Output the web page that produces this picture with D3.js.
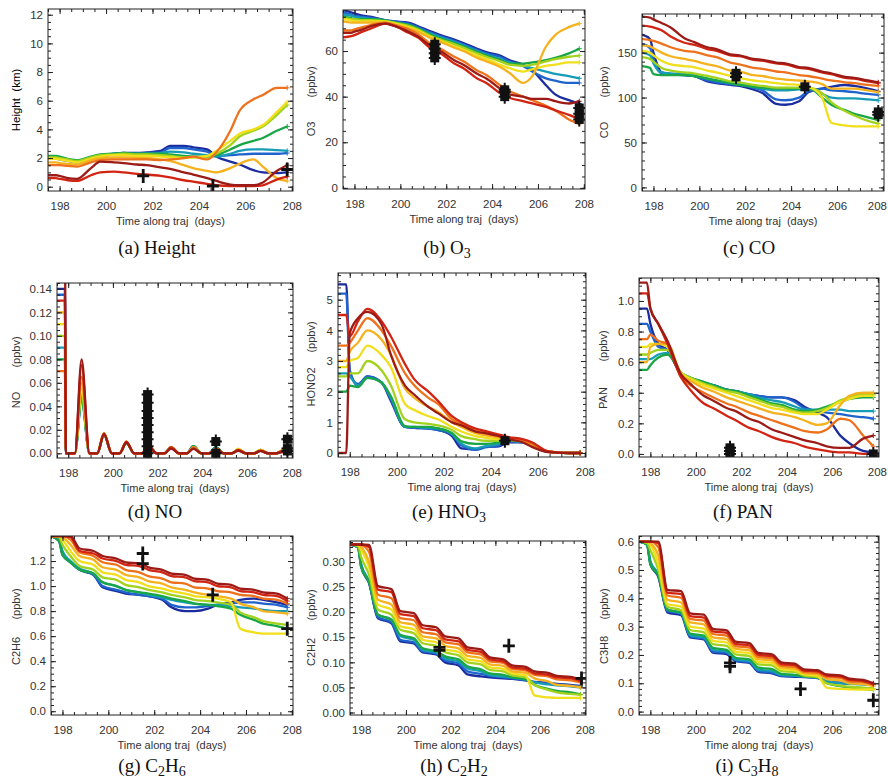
<!DOCTYPE html>
<html><head><meta charset="utf-8">
<script src="https://cdn.jsdelivr.net/npm/d3@7"></script>
<style>body{margin:0;background:#fff}svg{display:block}text{font-family:"Liberation Sans",Arial,sans-serif}</style>
</head><body><svg id="c" width="888" height="782"></svg>
<script>
// ---------- DATA ----------
const T = [197.5,197.85,198.0,198.35,198.75,199.35,199.75,200.35,200.75,201.35,201.75,202.35,202.75,203.35,203.75,204.35,204.75,205.35,205.75,206.35,206.75,207.35,207.8];
const T_NO = [197.5,197.85,197.9,198.3,198.6,198.95,199.3,199.6,199.95,200.3,200.6,200.95,201.3,201.6,201.95,202.3,202.6,202.95,203.3,203.6,203.95,204.3,204.6,204.95,205.3,205.6,205.95,206.3,206.6,206.95,207.3,207.6,207.8];
const xTicks = [198,200,202,204,206,208];

// series ordered by trajectory group: dark blue, blue, teal, green, yellow-green, yellow, gold, orange, red, dark red
const heightSeries = [
[2.0,2.0,1.95,1.85,1.75,2.0,2.15,2.3,2.35,2.35,2.4,2.5,2.85,2.85,2.75,2.6,2.1,1.75,1.55,1.15,1.0,0.95,1.0],
[1.95,1.95,1.9,1.8,1.7,1.95,2.1,2.25,2.3,2.3,2.35,2.4,2.7,2.7,2.6,2.45,2.15,2.2,2.25,2.3,2.3,2.3,2.35],
[2.05,2.05,2.0,1.9,1.8,2.05,2.2,2.3,2.35,2.3,2.3,2.35,2.45,2.4,2.3,2.2,2.1,2.3,2.5,2.6,2.6,2.55,2.5],
[2.15,2.15,2.1,1.95,1.85,2.1,2.25,2.3,2.35,2.3,2.3,2.3,2.25,2.15,2.1,2.1,2.2,2.6,2.9,3.2,3.4,3.9,4.2],
[2.05,2.05,2.0,1.9,1.8,2.05,2.2,2.25,2.3,2.25,2.25,2.2,2.15,2.05,2.05,2.1,2.3,2.9,3.5,3.9,4.2,5.0,5.7],
[1.95,1.95,1.9,1.8,1.7,1.95,2.1,2.2,2.2,2.15,2.15,2.1,2.05,2.0,2.05,2.15,2.5,3.2,3.7,4.0,4.3,5.2,5.9],
[1.7,1.7,1.65,1.6,1.55,1.85,2.0,2.05,2.05,2.0,2.0,1.9,1.8,1.5,1.3,1.1,1.0,1.3,1.6,1.9,1.4,0.6,0.4],
[1.5,1.5,1.5,1.45,1.4,1.7,1.85,1.9,1.9,1.9,1.9,1.85,1.9,2.0,2.1,1.9,2.4,3.9,5.3,6.1,6.4,6.9,6.9],
[0.6,0.6,0.55,0.45,0.4,0.8,1.0,1.05,1.0,0.9,0.85,0.75,0.65,0.45,0.35,0.2,0.1,0.05,0.05,0.05,0.1,0.5,0.7],
[0.8,0.8,0.75,0.6,0.55,1.3,1.75,1.7,1.65,1.55,1.5,1.35,1.25,1.0,0.85,0.6,0.4,0.15,0.1,0.1,0.3,1.1,1.5]
];
const heightTicks = [0,2,4,6,8,10,12];
const heightObs = [[201.6,0.75],[204.6,0.05],[207.8,1.2]];

const o3Series = [
[78,77,76.5,75.5,75,73.5,73,72.5,71,68.5,67,65,63.5,61,59.5,58,56,54,51.5,45,41,38.5,37],
[77,76,75.5,75,74.5,73.5,73,72,70.5,68,66.5,64.5,63,60.5,59,57.5,55.5,53.5,51,48,47,46,46],
[76,75.5,75,74.5,74,73.5,72.5,71.5,70,67.5,66,64,62.5,60,58.5,56.5,55,53.5,52.5,51,50,49,48],
[75,74.5,74,74,74,73.5,72.5,71.5,70,67,65.5,63.5,62,59.5,58,56,54.5,54.5,55,56,57,59,61],
[74.5,74,74,73.5,73.5,73,72.5,71,69.5,66.5,65,63,61.5,59,57.5,55.5,54,53.5,54,55.5,56.5,57.5,58],
[74,73.5,73,73,73,73,72,70.5,69,66,64.5,62,60.5,58,56.5,54,52.5,51,52,53.5,54,55,55],
[73,72.5,72.5,72.5,72.5,72.5,71.5,70,68.5,65.5,64,61.5,60,57,55.5,53,50.5,46,49,62,67,70.5,72],
[69,69,69.5,70.5,71.5,72.5,71.5,69.5,67.5,63,61,57.5,55.5,51.5,49.5,45,42.5,40,38.5,36,34,30,28],
[66,66.5,67,68.5,70,72,71,68,66,61,59,54.5,52.5,48,46,41.5,39.5,38,37,35.5,34,32,30],
[68,68,68.5,69.5,71,72,71,68.5,66.5,62,60,56,54,50,48,43.5,41,40,39,39,38,37,38]
];
const o3Ticks = [0,20,40,60];
const o3Obs = [[201.5,57],[201.5,59],[201.5,61],[201.5,63],[204.55,40],[204.55,42],[204.55,43],[207.8,30],[207.8,32.5],[207.8,35]];

const coSeries = [
[170,165,150,128,126,125,124,118,116,114,113,109,105,93,92,96,106,110,112,114,113,110,107],
[160,155,142,127,126,125,124,119,117,115,114,111,108,98,97,100,107,110,108,107,106,104,103],
[150,147,138,128,127,126,125,121,119,116,115,112,110,108,108,109,110,104,100,99,99,98,97],
[135,133,126,125,125,125,124,121,119,116,114,112,111,110,110,110,111,100,92,86,82,78,75],
[145,143,140,133,130,128,127,124,122,118,117,114,113,111,111,111,111,105,95,85,80,74,71],
[152,150,147,141,137,135,134,130,128,124,122,119,118,116,115,114,112,100,72,69,68,68,68],
[158,157,155,150,146,143,141,137,135,130,129,125,124,121,120,119,118,115,110,110,110,108,106],
[165,164,163,160,156,152,151,147,145,139,137,133,132,129,128,125,124,121,119,117,116,114,113],
[180,179,178,175,168,161,159,154,152,147,146,142,141,138,137,133,132,128,126,122,121,118,116],
[190,189,187,183,178,166,162,156,154,148,147,143,142,139,138,134,133,129,127,123,122,119,117]
];
const coTicks = [0,50,100,150];
const coObs = [[201.6,123],[201.6,127],[204.6,112],[207.8,81],[207.8,84]];

const noSeries = [
[0.14,0.14,0,0,0.048,0,0,0.016,0,0,0.009,0,0,0.006,0,0,0.005,0,0,0.006,0,0,0.005,0,0,0.003,0,0,0.002,0,0,0.002,0],
[0.135,0.135,0,0,0.048,0,0,0.016,0,0,0.009,0,0,0.006,0,0,0.005,0,0,0.006,0,0,0.005,0,0,0.003,0,0,0.002,0,0,0.002,0],
[0.09,0.09,0,0,0.046,0,0,0.016,0,0,0.009,0,0,0.006,0,0,0.005,0,0,0.006,0,0,0.005,0,0,0.003,0,0,0.002,0,0,0.002,0],
[0.08,0.08,0,0,0.045,0,0,0.016,0,0,0.009,0,0,0.006,0,0,0.005,0,0,0.006,0,0,0.005,0,0,0.003,0,0,0.003,0,0,0.002,0],
[0.1,0.1,0,0,0.05,0,0,0.016,0,0,0.009,0,0,0.006,0,0,0.005,0,0,0.005,0,0,0.004,0,0,0.003,0,0,0.003,0,0,0.002,0],
[0.11,0.11,0,0,0.055,0,0,0.017,0,0,0.01,0,0,0.006,0,0,0.005,0,0,0.005,0,0,0.004,0,0,0.004,0,0,0.003,0,0,0.003,0],
[0.12,0.12,0,0,0.06,0,0,0.017,0,0,0.01,0,0,0.006,0,0,0.005,0,0,0.005,0,0,0.004,0,0,0.003,0,0,0.003,0,0,0.002,0],
[0.07,0.07,0,0,0.065,0,0,0.017,0,0,0.01,0,0,0.006,0,0,0.005,0,0,0.005,0,0,0.004,0,0,0.003,0,0,0.002,0,0,0.002,0],
[0.13,0.13,0,0,0.075,0,0,0.017,0,0,0.01,0,0,0.006,0,0,0.005,0,0,0.004,0,0,0.004,0,0,0.003,0,0,0.002,0,0,0.002,0],
[0.2,0.2,0,0,0.08,0,0,0.016,0,0,0.009,0,0,0.006,0,0,0.004,0,0,0.004,0,0,0.003,0,0,0.002,0,0,0.002,0,0,0.001,0]
];
const noTicks = [0,0.02,0.04,0.06,0.08,0.10,0.12,0.14];
const noObs = [[201.55,0.0],[201.55,0.006],[201.55,0.012],[201.55,0.018],[201.55,0.024],[201.55,0.03],[201.55,0.036],[201.55,0.043],[201.55,0.05],[204.6,0.0],[204.6,0.01],[207.8,0.002],[207.8,0.004],[207.8,0.012]];

const hno3Series = [
[5.5,5.5,2.7,2.2,2.5,2.3,1.7,0.85,0.82,0.8,0.75,0.55,0.15,0.12,0.2,0.22,0.35,0.35,0.25,0.05,0.02,0,0],
[5.2,5.2,2.65,2.25,2.5,2.3,1.75,0.85,0.82,0.8,0.75,0.6,0.25,0.1,0.18,0.25,0.38,0.35,0.25,0.05,0.02,0,0],
[2.6,2.6,2.5,2.2,2.45,2.3,1.8,0.85,0.85,0.82,0.8,0.62,0.3,0.15,0.22,0.3,0.4,0.35,0.25,0.05,0.02,0,0],
[2.0,2.0,2.2,2.15,2.45,2.3,1.85,0.88,0.85,0.85,0.8,0.65,0.38,0.3,0.3,0.35,0.42,0.38,0.25,0.05,0.02,0,0],
[2.5,2.5,2.6,2.6,3.0,2.7,2.2,1.1,1.0,0.95,0.9,0.75,0.55,0.45,0.4,0.4,0.42,0.4,0.28,0.06,0.02,0,0],
[2.8,2.8,3.0,3.1,3.5,3.2,2.8,1.6,1.4,1.2,1.1,0.85,0.7,0.55,0.5,0.45,0.45,0.4,0.3,0.06,0.02,0,0],
[3.0,3.0,3.3,3.6,4.0,3.7,3.2,2.1,1.8,1.5,1.35,1.0,0.85,0.65,0.58,0.5,0.48,0.42,0.3,0.06,0.02,0,0],
[3.5,3.5,3.6,4.0,4.4,4.0,3.5,2.6,2.2,1.8,1.6,1.1,0.95,0.75,0.65,0.55,0.5,0.42,0.3,0.06,0.02,0,0],
[4.5,4.5,3.8,4.3,4.7,4.3,3.8,2.9,2.4,2.0,1.7,1.2,1.0,0.8,0.72,0.6,0.52,0.45,0.35,0.08,0.03,0,0],
[0,0,3.9,4.4,4.6,4.2,3.2,2.2,1.9,1.5,1.3,1.0,0.9,0.7,0.65,0.55,0.45,0.35,0.2,0.04,0.01,0,0]
];
const hno3Ticks = [0,1,2,3,4,5];
const hno3Obs = [[204.6,0.4]];

const panSeries = [
[0.95,0.95,0.85,0.72,0.68,0.52,0.49,0.46,0.45,0.42,0.41,0.39,0.38,0.37,0.37,0.35,0.31,0.27,0.24,0.12,0.07,0.02,0.01],
[0.85,0.85,0.8,0.7,0.68,0.52,0.49,0.46,0.45,0.42,0.41,0.39,0.38,0.37,0.37,0.34,0.3,0.28,0.27,0.26,0.25,0.24,0.23],
[0.62,0.62,0.62,0.65,0.66,0.53,0.5,0.47,0.45,0.42,0.41,0.39,0.37,0.35,0.34,0.31,0.29,0.29,0.29,0.29,0.28,0.28,0.28],
[0.55,0.55,0.58,0.63,0.65,0.53,0.5,0.47,0.45,0.42,0.41,0.38,0.36,0.33,0.32,0.29,0.28,0.29,0.31,0.34,0.36,0.37,0.37],
[0.65,0.65,0.66,0.68,0.68,0.53,0.5,0.46,0.44,0.41,0.4,0.37,0.35,0.32,0.31,0.28,0.27,0.28,0.3,0.35,0.37,0.39,0.39],
[0.7,0.7,0.72,0.72,0.7,0.53,0.49,0.45,0.43,0.4,0.38,0.35,0.33,0.3,0.29,0.27,0.26,0.26,0.29,0.34,0.36,0.38,0.38],
[0.6,0.6,0.7,0.72,0.72,0.52,0.48,0.43,0.41,0.37,0.35,0.32,0.3,0.27,0.26,0.24,0.22,0.19,0.2,0.32,0.38,0.4,0.4],
[0.75,0.75,0.78,0.74,0.72,0.5,0.45,0.4,0.37,0.33,0.31,0.27,0.25,0.22,0.2,0.17,0.15,0.14,0.16,0.23,0.22,0.12,0.05],
[1.05,1.05,0.95,0.85,0.72,0.5,0.42,0.33,0.3,0.25,0.22,0.17,0.15,0.11,0.09,0.07,0.05,0.03,0.02,0.01,0.01,0,0],
[1.12,1.12,0.95,0.85,0.74,0.52,0.46,0.38,0.35,0.3,0.28,0.23,0.21,0.16,0.14,0.11,0.09,0.07,0.05,0.04,0.04,0.1,0.12]
];
const panTicks = [0,0.2,0.4,0.6,0.8,1.0];
const panObs = [[201.5,0.0],[201.5,0.02],[201.5,0.04],[207.8,0.0]];

const c2h6Series = [
[1.4,1.36,1.25,1.19,1.13,1.09,0.99,0.96,0.94,0.93,0.92,0.89,0.83,0.8,0.8,0.82,0.85,0.87,0.89,0.9,0.89,0.87,0.85],
[1.4,1.37,1.27,1.19,1.13,1.09,1.0,0.97,0.95,0.93,0.92,0.9,0.85,0.83,0.83,0.84,0.85,0.86,0.87,0.87,0.86,0.85,0.83],
[1.4,1.37,1.28,1.2,1.14,1.1,1.03,1.0,0.97,0.95,0.93,0.91,0.89,0.87,0.86,0.85,0.85,0.84,0.83,0.82,0.81,0.8,0.8],
[1.4,1.36,1.25,1.19,1.13,1.1,1.03,1.0,0.97,0.95,0.94,0.92,0.9,0.88,0.86,0.85,0.84,0.82,0.77,0.73,0.7,0.68,0.66],
[1.4,1.39,1.33,1.24,1.16,1.13,1.07,1.05,1.01,0.99,0.97,0.95,0.93,0.91,0.89,0.88,0.87,0.85,0.79,0.75,0.72,0.7,0.69],
[1.4,1.4,1.37,1.28,1.2,1.17,1.11,1.09,1.05,1.03,1.0,0.98,0.96,0.94,0.92,0.91,0.9,0.87,0.66,0.63,0.62,0.62,0.62],
[1.4,1.4,1.39,1.33,1.24,1.21,1.15,1.13,1.09,1.07,1.04,1.02,0.99,0.97,0.95,0.93,0.92,0.9,0.86,0.83,0.8,0.79,0.78],
[1.4,1.4,1.4,1.37,1.27,1.24,1.19,1.17,1.13,1.11,1.08,1.06,1.03,1.02,0.99,0.98,0.96,0.95,0.93,0.92,0.9,0.89,0.86],
[1.4,1.4,1.4,1.39,1.28,1.26,1.22,1.2,1.17,1.16,1.13,1.11,1.08,1.07,1.04,1.03,1.0,0.99,0.96,0.95,0.93,0.92,0.88],
[1.4,1.4,1.4,1.4,1.3,1.28,1.24,1.22,1.19,1.18,1.15,1.13,1.1,1.09,1.06,1.05,1.02,1.01,0.98,0.97,0.95,0.94,0.9]
];
const c2h6Ticks = [0,0.2,0.4,0.6,0.8,1.0,1.2];
const c2h6Obs = [[201.5,1.26],[201.5,1.18],[204.55,0.93],[207.8,0.66]];

const c2h2Series = [
[0.335,0.33,0.29,0.258,0.188,0.178,0.142,0.138,0.12,0.116,0.1,0.094,0.076,0.072,0.07,0.068,0.067,0.064,0.061,0.059,0.057,0.055,0.053],
[0.335,0.33,0.295,0.26,0.19,0.18,0.145,0.14,0.122,0.118,0.104,0.098,0.082,0.077,0.073,0.07,0.068,0.064,0.06,0.058,0.056,0.054,0.052],
[0.335,0.33,0.295,0.262,0.195,0.185,0.152,0.145,0.125,0.12,0.108,0.102,0.088,0.082,0.075,0.072,0.07,0.066,0.06,0.056,0.054,0.052,0.05],
[0.335,0.33,0.29,0.26,0.195,0.185,0.155,0.148,0.128,0.122,0.112,0.106,0.092,0.086,0.078,0.075,0.07,0.066,0.055,0.047,0.043,0.04,0.036],
[0.335,0.332,0.31,0.275,0.205,0.195,0.165,0.158,0.138,0.133,0.12,0.114,0.1,0.096,0.085,0.082,0.074,0.07,0.055,0.045,0.04,0.037,0.035],
[0.335,0.334,0.325,0.29,0.215,0.205,0.172,0.166,0.145,0.14,0.126,0.121,0.106,0.102,0.09,0.087,0.078,0.074,0.034,0.03,0.029,0.029,0.029],
[0.335,0.335,0.33,0.3,0.225,0.215,0.18,0.175,0.152,0.148,0.133,0.128,0.113,0.109,0.096,0.093,0.082,0.079,0.068,0.062,0.055,0.053,0.05],
[0.335,0.335,0.334,0.32,0.235,0.228,0.188,0.184,0.16,0.156,0.14,0.136,0.12,0.116,0.102,0.099,0.087,0.084,0.075,0.072,0.066,0.064,0.06],
[0.335,0.335,0.335,0.33,0.245,0.24,0.196,0.192,0.168,0.164,0.146,0.142,0.125,0.121,0.106,0.102,0.09,0.087,0.078,0.075,0.07,0.068,0.063],
[0.335,0.335,0.335,0.334,0.252,0.246,0.202,0.198,0.174,0.17,0.152,0.148,0.13,0.126,0.11,0.106,0.094,0.091,0.082,0.079,0.073,0.071,0.066]
];
const c2h2Ticks = [0,0.05,0.10,0.15,0.20,0.25,0.30];
const c2h2Obs = [[201.5,0.13],[201.5,0.124],[204.6,0.133],[207.85,0.068]];

const c3h8Series = [
[0.6,0.59,0.52,0.475,0.35,0.34,0.262,0.255,0.208,0.203,0.178,0.172,0.14,0.135,0.125,0.123,0.122,0.118,0.107,0.101,0.099,0.097,0.096],
[0.6,0.59,0.53,0.48,0.355,0.345,0.265,0.258,0.212,0.207,0.18,0.175,0.143,0.138,0.127,0.125,0.123,0.119,0.108,0.102,0.1,0.098,0.097],
[0.6,0.59,0.53,0.485,0.36,0.348,0.27,0.262,0.218,0.212,0.184,0.178,0.148,0.143,0.13,0.127,0.124,0.12,0.108,0.1,0.098,0.096,0.095],
[0.6,0.59,0.52,0.48,0.36,0.35,0.275,0.268,0.225,0.218,0.19,0.184,0.155,0.15,0.133,0.13,0.125,0.12,0.1,0.09,0.085,0.08,0.077],
[0.6,0.595,0.57,0.5,0.37,0.358,0.288,0.28,0.238,0.232,0.202,0.196,0.167,0.163,0.143,0.14,0.127,0.122,0.1,0.092,0.088,0.085,0.082],
[0.6,0.6,0.59,0.52,0.38,0.37,0.3,0.293,0.25,0.244,0.212,0.206,0.176,0.172,0.15,0.146,0.131,0.126,0.085,0.08,0.079,0.078,0.078],
[0.6,0.6,0.595,0.55,0.395,0.385,0.315,0.308,0.262,0.256,0.222,0.216,0.185,0.181,0.156,0.152,0.136,0.132,0.115,0.11,0.1,0.097,0.09],
[0.6,0.6,0.6,0.58,0.41,0.402,0.327,0.321,0.274,0.268,0.231,0.226,0.193,0.189,0.162,0.158,0.14,0.137,0.122,0.119,0.107,0.104,0.095],
[0.6,0.6,0.6,0.595,0.42,0.415,0.337,0.332,0.283,0.278,0.239,0.234,0.2,0.196,0.168,0.164,0.145,0.142,0.127,0.124,0.112,0.108,0.097],
[0.6,0.6,0.6,0.6,0.43,0.425,0.347,0.342,0.292,0.287,0.247,0.242,0.207,0.202,0.174,0.169,0.149,0.146,0.131,0.128,0.116,0.112,0.1]
];
const c3h8Ticks = [0,0.1,0.2,0.3,0.4,0.5,0.6];
const c3h8Obs = [[201.5,0.172],[201.5,0.16],[204.6,0.08],[207.8,0.04]];

// ---------- STYLE / LAYOUT ----------
const COLORS = ["#1b2d9e","#1f64cc","#179cb8","#18a646","#a2d21e","#f0df1a","#f5b21e","#ee711c","#d22412","#9c1b16"];
const XDOM = [197.5, 208.05];
const LW = 2.3;

const panels = [
 {series:heightSeries,t:T,ticks:heightTicks,minor:0.5,fmt:"d",y:[-0.3,12.4],frame:[48,9,293,191],obs:heightObs,box:false,
  ylab:[["Height  (km)",100]],labX:16,labDark:true,cap:[["(a) Height",0]],capX:157,capY:248},
 {series:o3Series,t:T,ticks:o3Ticks,minor:5,fmt:"d",y:[-0.5,78],frame:[343,10,585,189],obs:o3Obs,box:true,
  ylab:[["O3",129],["(ppbv)",82]],labX:311,cap:[["(b) O",0],["3",1]],capX:447,capY:248},
 {series:coSeries,t:T,ticks:coTicks,minor:10,fmt:"d",y:[-4,193],frame:[642,14,884,191],obs:coObs,box:true,
  ylab:[["CO",130],["(ppbv)",82]],labX:604,cap:[["(c) CO",0]],capX:749,capY:248},
 {series:noSeries,t:T_NO,ticks:noTicks,minor:0.005,fmt:".2f",y:[-0.004,0.145],frame:[57,283,293,458],obs:noObs,box:true,
  ylab:[["NO",400],["(ppbv)",352]],labX:16,cap:[["(d) NO",0]],capX:155,capY:512},
 {series:hno3Series,t:T,ticks:hno3Ticks,minor:0.2,fmt:"d",y:[-0.13,5.87],frame:[338,273,586,457],obs:hno3Obs,box:true,
  ylab:[["HONO2",387],["(ppbv)",337]],labX:311,cap:[["(e) HNO",0],["3",1]],capX:449,capY:512},
 {series:panSeries,t:T,ticks:panTicks,minor:0.05,fmt:".1f",y:[-0.02,1.15],frame:[639,278,879,457],obs:panObs,box:true,
  ylab:[["PAN",398],["(ppbv)",346]],labX:603,cap:[["(f) PAN",0]],capX:743,capY:512},
 {series:c2h6Series,t:T,ticks:c2h6Ticks,minor:0.05,fmt:".1f",y:[-0.03,1.4],frame:[51,536,293,715],obs:c2h6Obs,box:false,
  ylab:[["C2H6",651],["(ppbv)",604]],labX:16,cap:[["(g) C",0],["2",1],["H",0],["6",1]],capX:152,capY:766},
 {series:c2h2Series,t:T,ticks:c2h2Ticks,minor:0.01,fmt:".2f",y:[-0.005,0.342],frame:[350,541,586,715],obs:c2h2Obs,box:false,
  ylab:[["C2H2",652],["(ppbv)",605]],labX:311,cap:[["(h) C",0],["2",1],["H",0],["2",1]],capX:454,capY:766},
 {series:c3h8Series,t:T,ticks:c3h8Ticks,minor:0.02,fmt:".1f",y:[-0.012,0.62],frame:[639,536,879,715],obs:c3h8Obs,box:false,
  ylab:[["C3H8",650],["(ppbv)",604]],labX:604,cap:[["(i) C",0],["3",1],["H",0],["8",1]],capX:747,capY:766}
];

const svg = d3.select("#c");
svg.append("rect").attr("width",888).attr("height",782).attr("fill","#fff");
const defs = svg.append("defs");

panels.forEach((p,pi)=>{
  const [x0,y0,x1,y1] = p.frame;
  const x = d3.scaleLinear().domain(XDOM).range([x0,x1]);
  const y = d3.scaleLinear().domain(p.y).range([y1,y0]);
  const g = svg.append("g");
  const cid = "clip"+pi;
  defs.append("clipPath").attr("id",cid).append("rect")
    .attr("x",x0).attr("y",y0).attr("width",x1-x0).attr("height",y1-y0);
  const lg = g.append("g").attr("clip-path",`url(#${cid})`);
  const line = d3.line().x((d,i)=>x(p.t[i])).y(d=>y(d)).curve(d3.curveMonotoneX);
  p.series.forEach((s,i)=>{
    lg.append("path").attr("d",line(s)).attr("fill","none")
      .attr("stroke",COLORS[i]).attr("stroke-width",LW).attr("stroke-linejoin","round");
    const lx = x(p.t[p.t.length-1]), ly = y(s[s.length-1]);
    lg.append("path").attr("d",`M${lx-2.5},${ly}H${lx+2.5}M${lx},${ly-2.5}V${ly+2.5}`)
      .attr("stroke",COLORS[i]).attr("stroke-width",1);
  });
  // observations
  const og = lg.append("g");
  p.obs.forEach(o=>{
    const ox=x(o[0]), oy=y(o[1]);
    if(p.box) og.append("rect").attr("x",ox-4.5).attr("y",oy-4.5).attr("width",9).attr("height",9).attr("fill","#111");
    og.append("path").attr("d",`M${ox-6},${oy}H${ox+6}M${ox},${oy-7}V${oy+7}`)
      .attr("stroke","#111").attr("stroke-width",p.box?2:2.8);
  });
  // axes
  const minorX = d3.range(197.5,208.06,0.5);
  const yMinor = d3.range(0,p.y[1]+1e-9,p.minor).map(v=>+v.toFixed(6));
  const fmt = d3.format(p.fmt);
  const ax = (gen)=>{ const a=g.append("g"); a.call(gen); a.select(".domain").remove(); return a; };
  ax(d3.axisBottom(x).tickValues(xTicks).tickSize(-5).tickPadding(11).tickFormat(d3.format("d"))).attr("transform",`translate(0,${y1})`);
  ax(d3.axisBottom(x).tickValues(minorX).tickSize(-3).tickFormat("")).attr("transform",`translate(0,${y1})`);
  ax(d3.axisTop(x).tickValues(xTicks).tickSize(-5).tickFormat("")).attr("transform",`translate(0,${y0})`);
  ax(d3.axisTop(x).tickValues(minorX).tickSize(-3).tickFormat("")).attr("transform",`translate(0,${y0})`);
  ax(d3.axisLeft(y).tickValues(p.ticks).tickSize(-5).tickPadding(5).tickFormat(fmt)).attr("transform",`translate(${x0},0)`);
  ax(d3.axisLeft(y).tickValues(yMinor).tickSize(-3).tickFormat("")).attr("transform",`translate(${x0},0)`);
  ax(d3.axisRight(y).tickValues(p.ticks).tickSize(-5).tickFormat("")).attr("transform",`translate(${x1},0)`);
  ax(d3.axisRight(y).tickValues(yMinor).tickSize(-3).tickFormat("")).attr("transform",`translate(${x1},0)`);
  g.selectAll(".tick line").attr("stroke","#222");
  g.selectAll(".tick text").attr("font-size",11.5).attr("fill","#333").attr("font-family","Liberation Sans, Arial, sans-serif");
  g.append("rect").attr("x",x0).attr("y",y0).attr("width",x1-x0).attr("height",y1-y0)
    .attr("fill","none").attr("stroke","#222").attr("stroke-width",1);
  // titles
  g.append("text").attr("x",(x0+x1)/2).attr("y",y1+34).attr("text-anchor","middle")
    .attr("font-size",11).attr("fill","#333").style("white-space","pre").text("Time along traj  (days)");
  p.ylab.forEach(l=>{
    g.append("text").attr("transform",`translate(${p.labX},${l[1]}) rotate(-90)`)
      .attr("text-anchor","middle").attr("dy","0.35em").attr("font-size",p.labDark?11.5:11)
      .attr("fill",p.labDark?"#000":"#333").style("white-space","pre").text(l[0]);
  });
  const cap = g.append("text").attr("x",p.capX).attr("y",p.capY+6).attr("text-anchor","middle")
    .attr("font-family","Liberation Serif, Times New Roman, serif").attr("font-size",19).attr("fill","#111");
  let sub=false;
  p.cap.forEach(c=>{
    const ts = cap.append("tspan").text(c[0]).style("font-family","Liberation Serif, Times New Roman, serif");
    if(c[1] && !sub){ ts.attr("dy",4).attr("font-size",14); sub=true; }
    else if(c[1]){ ts.attr("font-size",14); }
    else if(!c[1] && sub){ ts.attr("dy",-4); sub=false; }
  });
});
// keep tick labels inside the page
svg.selectAll(".tick text").each(function(){
  const b=this.getBoundingClientRect();
  if(b.right>887) d3.select(this).attr("dx",-(b.right-887));
});
</script></body></html>
